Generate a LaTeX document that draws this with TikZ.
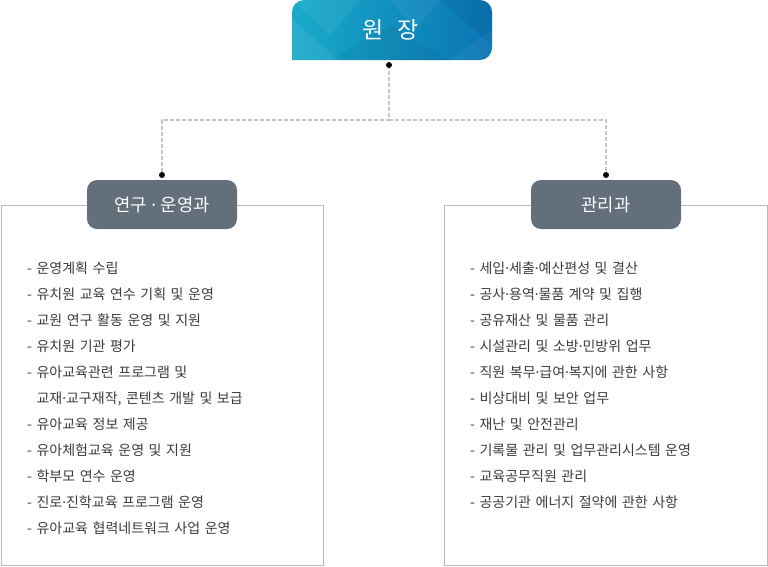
\documentclass[tikz,border=0pt]{standalone}
\usepackage{fontspec}
\setmainfont{Noto Sans CJK KR}
\newfontfamily\lat{Noto Sans}
\newfontfamily\listfont{Noto Sans CJK KR}[WordSpace=1.45]
\newcommand\mdt{{\lat ·}}
\definecolor{hdr}{HTML}{636F7B}
\definecolor{bord}{HTML}{B8B8B8}
\definecolor{dashc}{HTML}{C6C6C6}
\definecolor{txt}{HTML}{3C3C3C}
\definecolor{tl}{HTML}{18ABCA}
\definecolor{tr}{HTML}{0A74B4}
\tikzset{
  hdrbox/.style={fill=hdr, rounded corners=10pt, minimum width=150pt, minimum height=49pt, inner sep=0pt, text=white, font=\fontsize{17.7}{21}\selectfont},
  listbox/.style={draw=bord, line width=1pt},
  conn/.style={draw=dashc, line width=1.5pt, dash pattern=on 4pt off 2pt},
  dotc/.style={fill=black},
  item/.style={anchor=base west, inner sep=0pt, text=txt, font=\listfont\fontsize{14}{17}\selectfont},
}
\begin{document}
\begin{tikzpicture}[x=1pt,y=-1pt]
\useasboundingbox (0,0) rectangle (768,566);
% top box
\path[left color=tl, right color=tr, rounded corners=12pt] (292,60) -- (292,0) -- (492,0) -- (492,60) -- (292,60);
\begin{scope}
\clip[rounded corners=12pt] (292,60) -- (292,0) -- (492,0) -- (492,60) -- (292,60);
\fill[white, opacity=0.07] (292,20) -- (340,60) -- (292,60) -- cycle;
\fill[white, opacity=0.06] (292,0) -- (360,0) -- (330,35) -- cycle;
\fill[black, opacity=0.05] (330,60) -- (390,25) -- (450,60) -- cycle;
\fill[white, opacity=0.05] (390,0) -- (440,0) -- (415,30) -- cycle;
\fill[black, opacity=0.06] (440,0) -- (492,0) -- (492,45) -- cycle;
\fill[white, opacity=0.05] (450,60) -- (492,30) -- (492,60) -- cycle;
\end{scope}
\node[inner sep=0pt, text=white, font=\fontsize{23}{27}\selectfont] (top) at (391,30) {원\hspace{14pt}장};
% dots
\coordinate (d0) at (389,65);
\coordinate (dl) at (162,175);
\coordinate (dr) at (606,175);
\draw[conn] (d0) -- (389,120) -| (dl);
\draw[conn] (389,120) -| (dr);
\fill[dotc] (d0) circle (3pt);
\fill[dotc] (dl) circle (3pt);
\fill[dotc] (dr) circle (3pt);
% list boxes
\draw[listbox] (1,205) rectangle (323,565);
\draw[listbox] (444,205) rectangle (767,565);
% headers
\node[hdrbox] (hl) at (162,204.5) {연구{\lat{} · }운영과};
\node[hdrbox] (hr) at (606,204.5) {관리과};
% left items
\foreach \t [count=\i] in {
  {- 운영계획 수립},
  {- 유치원 교육 연수 기획 및 운영},
  {- 교원 연구 활동 운영 및 지원},
  {- 유치원 기관 평가},
  {- 유아교육관련 프로그램 및},
  {\phantom{- }교재\mdt 교구재작, 콘텐츠 개발 및 보급},
  {- 유아교육 정보 제공},
  {- 유아체험교육 운영 및 지원},
  {- 학부모 연수 운영},
  {- 진로\mdt 진학교육 프로그램 운영},
  {- 유아교육 협력네트워크 사업 운영}}
  \node[item] (l\i) at (27,{273+26*(\i-1)}) {\t};
% right items
\foreach \t [count=\i] in {
  {- 세입\mdt 세출\mdt 예산편성 및 결산},
  {- 공사\mdt 용역\mdt 물품 계약 및 집행},
  {- 공유재산 및 물품 관리},
  {- 시설관리 및 소방\mdt 민방위 업무},
  {- 직원 복무\mdt 급여\mdt 복지에 관한 사항},
  {- 비상대비 및 보안 업무},
  {- 재난 및 안전관리},
  {- 기록물 관리 및 업무관리시스템 운영},
  {- 교육공무직원 관리},
  {- 공공기관 에너지 절약에 관한 사항}}
  \node[item] (r\i) at (470,{273+26*(\i-1)}) {\t};
\end{tikzpicture}
\end{document}
